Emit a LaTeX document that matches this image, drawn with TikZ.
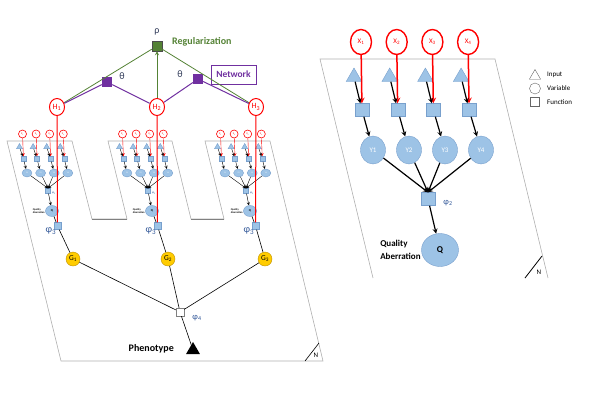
\documentclass[tikz,border=0pt]{standalone}
\usepackage{fontspec}
\setmainfont{Carlito}
\usetikzlibrary{shapes.geometric}
\definecolor{lblue}{RGB}{157,195,230}
\definecolor{lbluedk}{RGB}{120,160,205}
\definecolor{reggreen}{RGB}{84,130,53}
\definecolor{netpurple}{RGB}{112,48,160}
\definecolor{phiblue}{RGB}{47,85,151}
\definecolor{thetacol}{RGB}{50,60,90}
\definecolor{gyellow}{RGB}{255,204,0}
\definecolor{gorange}{RGB}{191,144,0}
\definecolor{plategray}{RGB}{175,175,175}

\begin{document}
\begin{tikzpicture}[>=stealth,x=1pt,y=-1pt,
  plate/.style={draw=plategray,line width=0.6pt},
  wire/.style={line width=0.6pt},
  hvar/.style={ellipse,draw=red,line width=1pt,fill=white,text=red,inner sep=0pt,minimum width=15pt,minimum height=17pt,font=\fontsize{8}{8}\selectfont},
  gvar/.style={circle,draw=gorange,fill=gyellow,inner sep=0pt,minimum size=14pt,font=\fontsize{7.5}{7.5}\selectfont},
  regbox/.style={rectangle,draw=black!70,fill=reggreen,minimum size=10pt,inner sep=0pt},
  netbox/.style={rectangle,fill=netpurple,minimum size=10pt,inner sep=0pt},
  xvar/.style={ellipse,draw=red,line width=1.4pt,fill=white,text=red,inner sep=0pt,minimum width=21pt,minimum height=25pt,font=\fontsize{7}{7}\selectfont},
  inbox/.style={regular polygon,regular polygon sides=3,fill=lblue,draw=lbluedk,inner sep=0pt,minimum size=18pt},
  funbox/.style={rectangle,fill=lblue,draw=lbluedk,inner sep=0pt,minimum width=14pt,minimum height=13pt},
  yvar/.style={ellipse,fill=lblue,draw=lbluedk,text=white,inner sep=0pt,minimum width=25pt,minimum height=28pt,font=\fontsize{7}{7}\selectfont},
  sxvar/.style={circle,draw=red,line width=0.6pt,fill=white,text=red,inner sep=0pt,minimum size=8pt,font=\fontsize{2.5}{2.5}\selectfont},
  sinbox/.style={inbox,minimum size=7pt},
  sfunbox/.style={funbox,minimum width=5pt,minimum height=5pt},
  syvar/.style={yvar,minimum width=10pt,minimum height=8pt,font=\fontsize{2}{2}\selectfont},
  sarr/.style={->,line width=0.4pt},
  phil/.style={text=phiblue,inner sep=1pt},
  lab/.style={font=\bfseries\fontsize{10}{12}\selectfont},
  legend/.style={inner sep=1pt,font=\fontsize{7}{7}\selectfont}]
\useasboundingbox (0,0) rectangle (600,400);

% left plate
\draw[plate] (72,141) -- (7,141) -- (61,361) -- (323,361) -- (270,141) -- (205,141)
  -- (224,219) -- (191,219) -- (172,141) -- (108,141) -- (127,219) -- (92,219) -- cycle;
\draw[draw=gray,line width=0.8pt] (92,219) -- (127,219);
\draw[draw=gray,line width=0.8pt] (191,219) -- (224,219);
\draw[wire] (305,361) -- (319,343);
\node[legend] (nleft) at (316,355) {N};

% hidden layer and regularization
\node[hvar] (h1) at (57,107) {H\textsubscript{1}};
\node[hvar] (h2) at (157,107) {H\textsubscript{2}};
\node[hvar] (h3) at (256,107) {H\textsubscript{3}};
\node[regbox] (reg) at (157,46) {};
\node[text=thetacol,font=\fontsize{10}{10}\selectfont] (rho) at (157,32) {ρ};
\node[lab,text=reggreen,anchor=west,inner sep=0pt] (reglab) at (172,42) {Regularization};
\node[netbox] (net1) at (107,82) {};
\node[netbox] (net2) at (198,79) {};
\node[text=thetacol,font=\fontsize{10}{10}\selectfont] (th1) at (122,76) {θ};
\node[text=thetacol,font=\fontsize{10}{10}\selectfont] (th2) at (180,74) {θ};
\node[draw=netpurple,text=netpurple,font=\bfseries\fontsize{9.5}{10}\selectfont,minimum width=45pt,minimum height=19pt,inner sep=0pt] (netlab) at (233.5,74.5) {Network};

\draw[reggreen,line width=0.8pt] (h1) -- (reg);
\draw[reggreen,line width=0.8pt] (h3) -- (reg);
\draw[->,reggreen,line width=0.8pt] (h2) -- (reg);
\draw[netpurple,line width=1pt] (h1) -- (net1) -- (h2) -- (net2) -- (h3);

% three small plates
\foreach \d/\k in {0/1,100/2,198/3}{
  \foreach \i in {1,...,4}{
    \pgfmathsetmacro{\cx}{\d+22.5+13.6*(\i-1)}
    \node[sxvar] (sx\k\i) at (\cx,134) {X\textsubscript{\i}};
    \node[sinbox] (si\k\i) at (\cx-3,147) {};
    \node[sfunbox] (sf\k\i) at (\cx+1,159) {};
    \node[syvar] (sy\k\i) at (\cx+4.5,173) {Y\i};
  }
  \node[sfunbox] (sp\k) at (\d+48,191) {};
  \node[phil,font=\fontsize{3}{3}\selectfont] (spl\k) at (\d+54,193) {φ\textsubscript{2}};
  \node[syvar,minimum width=13pt,minimum height=11pt,text=black,font=\bfseries\fontsize{3}{3}\selectfont] (sq\k) at (\d+52,211) {Q};
  \node[align=left,anchor=east,inner sep=0.5pt,font=\bfseries\fontsize{2.6}{3.4}\selectfont] (sqa\k) at (sq\k.west) {Quality\\Aberration};
  \node[funbox,minimum width=7pt,minimum height=7pt] (phi3\k) at (\d+57.5,226) {};
  \node[phil,font=\fontsize{10}{10}\selectfont] (phi3l\k) at (\d+51,231) {φ\textsubscript{3}};
  \foreach \i in {1,...,4}{
    \draw[sarr,red] (sx\k\i) -- (sf\k\i);
    \draw[sarr] (si\k\i) -- (sf\k\i);
    \draw[sarr] (sf\k\i) -- (sy\k\i);
    \draw[sarr] (sy\k\i) -- (sp\k.north);
  }
  \draw[sarr] (sp\k) -- (sq\k);
  \draw[wire] (sq\k) -- (phi3\k);
  \draw[red,line width=1pt] (h\k) -- (phi3\k);
}

% genes and phenotype
\node[gvar] (g1) at (73,259) {G\textsubscript{1}};
\node[gvar] (g2) at (168,259) {G\textsubscript{2}};
\node[gvar] (g3) at (265,259) {G\textsubscript{3}};
\node[rectangle,draw=gray,fill=white,minimum size=8pt,inner sep=0pt] (phi4) at (180,312) {};
\node[phil,font=\fontsize{8.5}{8.5}\selectfont] (phi4l) at (197,318) {φ\textsubscript{4}};
\node[regular polygon,regular polygon sides=3,fill=black,inner sep=0pt,minimum size=16pt] (pheno) at (193,350) {};
\node[lab,anchor=east,inner sep=0pt] (phenolab) at (174,349) {Phenotype};
\foreach \k in {1,2,3}{
  \draw[wire] (phi3\k) -- (g\k);
  \draw[wire] (g\k) -- (phi4);
}
\draw[wire] (phi4) -- (pheno);

% right plate
\draw[plate] (373,278) -- (320,59) -- (495,59) -- (548,278);
\draw[line width=0.8pt] (525,278) -- (542,256);
\node[legend] (nright) at (539,272) {N};
\foreach \i in {1,...,4}{
  \pgfmathsetmacro{\cx}{361+35.7*(\i-1)}
  \pgfmathsetmacro{\cy}{373+36*(\i-1)}
  \node[xvar] (x\i) at (\cx,42) {X\textsubscript{\i}};
  \node[inbox] (in\i) at (\cx-7,77) {};
  \node[funbox] (f\i) at (\cx+1,110) {};
  \node[yvar] (y\i) at (\cy,150) {Y\i};
}
\node[funbox] (phi2) at (428,199) {};
\node[phil,font=\fontsize{8.5}{8.5}\selectfont] (phi2l) at (448,203) {φ\textsubscript{2}};
\node[yvar,minimum width=37pt,minimum height=33pt,text=black,font=\bfseries\fontsize{9}{9}\selectfont] (q) at (440,250) {Q};
\node[align=left,anchor=east,inner sep=0.5pt,font=\bfseries\fontsize{9}{12.5}\selectfont] (qa) at (q.west) {Quality\\Aberration};
\foreach \i in {1,...,4}{
  \draw[->,red,line width=1.5pt] (x\i) -- (f\i);
  \draw[->,line width=1.2pt] (in\i) -- (f\i);
  \draw[->,line width=1.2pt] (f\i) -- (y\i);
  \draw[->,line width=1.2pt] (y\i) -- (phi2.north);
}
\draw[->,line width=1.2pt] (phi2) -- (q);

% legend
\node[regular polygon,regular polygon sides=3,draw=gray!80!black,inner sep=0pt,minimum size=13pt] (legin) at (535,76) {};
\node[legend,anchor=west] (legint) at (546,75) {Input};
\node[circle,draw=gray!80!black,inner sep=0pt,minimum size=11pt] (legvar) at (535,88.5) {};
\node[legend,anchor=west] (legvart) at (546,88.5) {Variable};
\node[rectangle,draw=gray!80!black,inner sep=0pt,minimum size=9pt] (legfun) at (535,102) {};
\node[legend,anchor=west] (legfunt) at (546,102) {Function};
\end{tikzpicture}
\end{document}
